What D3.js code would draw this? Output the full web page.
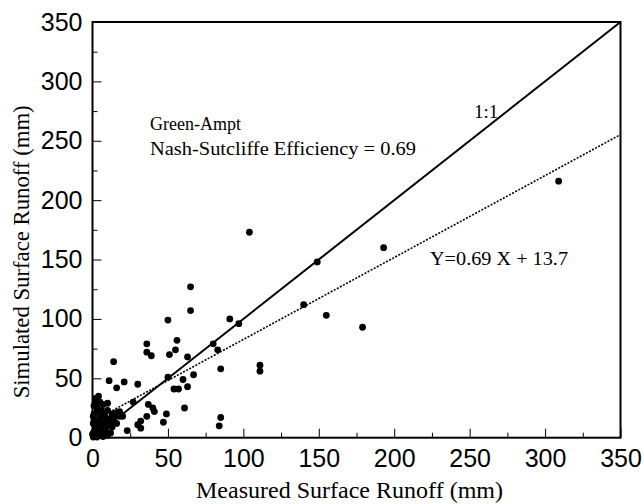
<!DOCTYPE html>
<html>
<head>
<meta charset="utf-8">
<script src="https://cdn.jsdelivr.net/npm/d3@7"></script>
<style>
  body { margin: 0; background: #fff; }
  svg { display: block; }
</style>
</head>
<body>
<div id="chart"></div>
<script>
// measured vs simulated surface runoff (mm)
const measured = [
  309, 193, 149, 140, 155, 179, 104, 111, 111,
  91, 97, 65, 65, 50, 36, 56, 36, 39, 55, 51, 63, 14, 80, 83, 85, 67, 60, 50,
  11, 21, 16, 30, 54, 57, 63, 27, 37, 40, 41, 61, 36, 49, 32, 32, 30, 47, 23,
  85, 84, 18, 18, 20, 14, 16, 13,
  4, 5, 2, 7, 10, 3, 6, 10, 8, 13, 16, 1, 4, 7, 10, 2, 5, 9, 1, 4, 12, 2, 0,
  2, 1, 0.5, 5, 0.5, 4, 2, 6, 10, 1, 3, 7, 2,
  1, 3, 5, 7, 8, 6, 3, 9, 11, 14, 2, 4, 6, 8, 0.5
];
const simulated = [
  216, 160, 148, 112, 103, 93, 173, 61, 56,
  100, 96, 127, 107, 99, 79, 82, 72, 69, 74, 70, 68, 64, 79, 74, 58, 53, 49, 51,
  48, 47, 42, 45, 41, 41, 43, 30, 28, 25, 22, 25, 18, 20, 14, 8, 11, 13, 6,
  17, 10, 22, 18, 18, 13, 12, 9,
  35, 30, 27, 28, 29, 22, 23, 23, 19, 20, 21, 15, 13, 15, 12, 9, 8, 9, 5, 4, 4, 2, 3,
  33, 27, 18, 15, 12, 9, 5, 4, 2, 1, 0.5, 1, 12,
  20, 25, 17, 20, 12, 10, 7, 5, 16, 17, 30, 12, 6, 3, 0.5
];

const xTicks = [0, 50, 100, 150, 200, 250, 300, 350];
const yTicks = [0, 50, 100, 150, 200, 250, 300, 350];
const minorTicks = [25, 75, 125, 175, 225, 275, 325];

// regression line Y = 0.69 X + 13.7
const fitSlope = 0.69;
const fitIntercept = 13.7;
const fitRange = [5, 350];
const oneToOne = [0, 350];

const width = 644, height = 504;
const margin = { top: 22, right: 23.5, bottom: 66.3, left: 92.5 };

const svg = d3.select('#chart')
  .append('svg')
  .attr('width', width)
  .attr('height', height);

const x = d3.scaleLinear().domain([0, 350]).range([margin.left, width - margin.right]);
const y = d3.scaleLinear().domain([0, 350]).range([height - margin.bottom, margin.top]);

const NUM_FONT = 'Liberation Sans, Arial, sans-serif';
const SERIF = 'Liberation Serif, Times New Roman, serif';

// frame
svg.append('rect')
  .attr('x', x(0))
  .attr('y', y(350))
  .attr('width', x(350) - x(0))
  .attr('height', y(0) - y(350))
  .attr('fill', 'none')
  .attr('stroke', '#000')
  .attr('stroke-width', 2);

// bottom axis, ticks point inward
const xAxis = svg.append('g')
  .attr('transform', `translate(0,${y(0)})`)
  .call(d3.axisBottom(x).tickValues(xTicks).tickSize(-9).tickPadding(12).tickFormat(d3.format('d')));
xAxis.select('.domain').remove();
xAxis.selectAll('text')
  .style('font-family', NUM_FONT)
  .style('font-size', '25px')
  .attr('fill', '#000');

svg.append('g')
  .attr('transform', `translate(0,${y(0)})`)
  .call(d3.axisBottom(x).tickValues(minorTicks).tickSize(-5).tickFormat(''))
  .call(g => g.select('.domain').remove());

// left axis
const yAxis = svg.append('g')
  .attr('transform', `translate(${x(0)},0)`)
  .call(d3.axisLeft(y).tickValues(yTicks).tickSize(-9).tickPadding(10).tickFormat(d3.format('d')));
yAxis.select('.domain').remove();
yAxis.selectAll('text')
  .style('font-family', NUM_FONT)
  .style('font-size', '25px')
  .attr('fill', '#000');

svg.append('g')
  .attr('transform', `translate(${x(0)},0)`)
  .call(d3.axisLeft(y).tickValues(minorTicks).tickSize(-5).tickFormat(''))
  .call(g => g.select('.domain').remove());

// axis titles
svg.append('text')
  .attr('x', (x(0) + x(350)) / 2 - 7)
  .attr('y', 498)
  .attr('text-anchor', 'middle')
  .attr('textLength', 307)
  .attr('lengthAdjust', 'spacingAndGlyphs')
  .style('font-family', SERIF)
  .style('font-size', '23px')
  .text('Measured Surface Runoff (mm)');

svg.append('text')
  .attr('transform', `translate(29,${(y(0) + y(350)) / 2 + 22}) rotate(-90)`)
  .attr('text-anchor', 'middle')
  .attr('textLength', 293)
  .attr('lengthAdjust', 'spacingAndGlyphs')
  .style('font-family', SERIF)
  .style('font-size', '23px')
  .text('Simulated Surface Runoff (mm)');

// 1:1 line
svg.append('line')
  .attr('x1', x(oneToOne[0])).attr('y1', y(oneToOne[0]))
  .attr('x2', x(oneToOne[1])).attr('y2', y(oneToOne[1]))
  .attr('stroke', '#000')
  .attr('stroke-width', 2);

// regression line
svg.append('line')
  .attr('x1', x(fitRange[0])).attr('y1', y(fitSlope * fitRange[0] + fitIntercept))
  .attr('x2', x(fitRange[1])).attr('y2', y(fitSlope * fitRange[1] + fitIntercept))
  .attr('stroke', '#000')
  .attr('stroke-width', 1.6)
  .attr('stroke-dasharray', '2,1.5');

// points
svg.append('g')
  .selectAll('circle')
  .data(measured.map((m, i) => [m, simulated[i]]))
  .join('circle')
  .attr('cx', d => x(d[0]))
  .attr('cy', d => y(d[1]))
  .attr('r', 3.4)
  .attr('fill', '#000');

// annotations
const notes = svg.append('g')
  .style('font-family', SERIF)
  .style('font-size', '19px');
notes.append('text').attr('x', 150).attr('y', 130).style('font-size', '18px').text('Green-Ampt');
notes.append('text').attr('x', 150).attr('y', 155).attr('textLength', 266)
  .attr('lengthAdjust', 'spacingAndGlyphs').text('Nash-Sutcliffe Efficiency = 0.69');
notes.append('text').attr('x', 474).attr('y', 118).text('1:1');
notes.append('text').attr('x', 430).attr('y', 265).attr('textLength', 138)
  .attr('lengthAdjust', 'spacingAndGlyphs').text('Y=0.69 X + 13.7');
</script>
</body>
</html>
